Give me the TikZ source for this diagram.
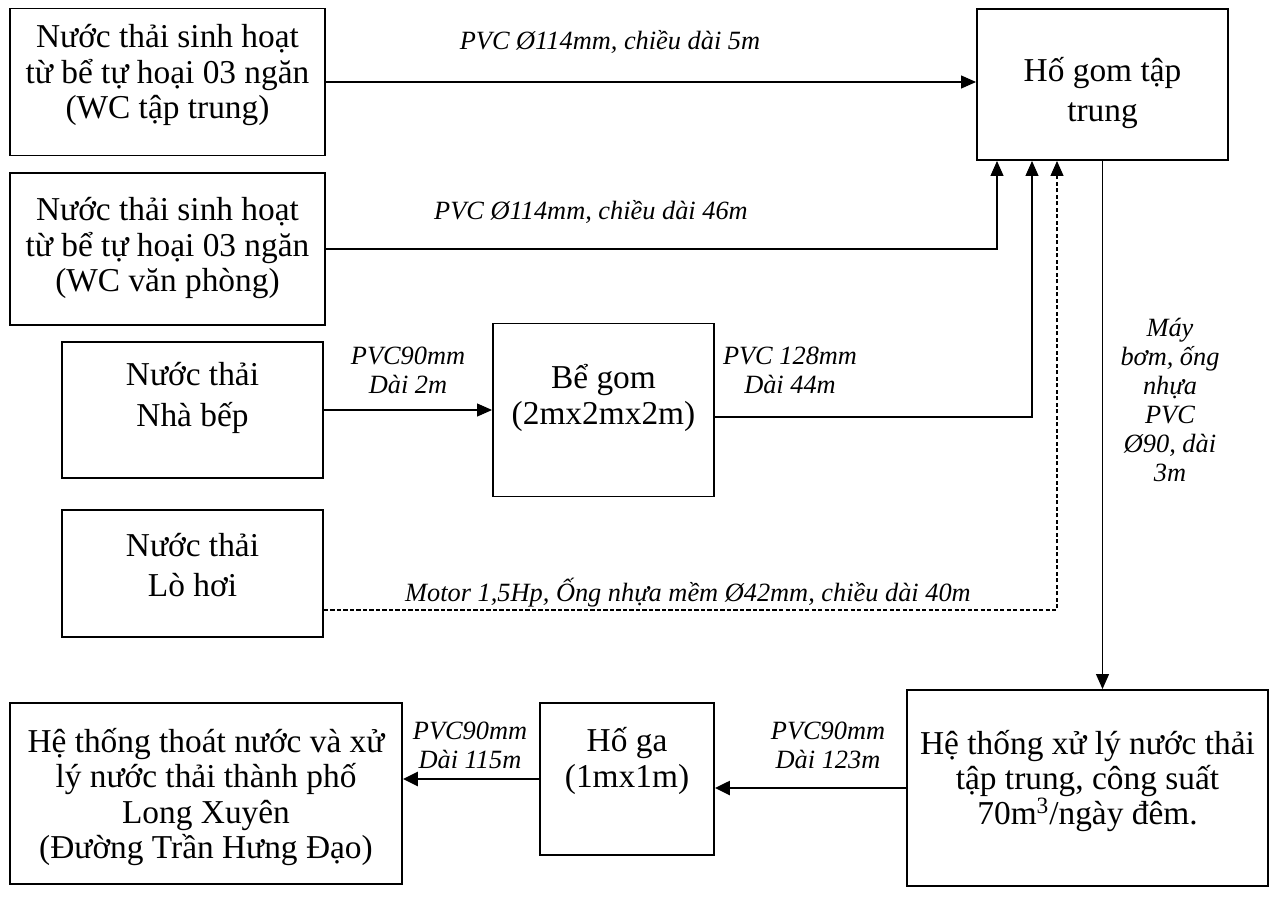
\documentclass[tikz,border=0pt]{standalone}
\usepackage{fontspec}
\setmainfont{Liberation Serif}
\usetikzlibrary{arrows.meta}
\tikzstyle{bx}=[draw=black,line width=1.1pt,inner sep=0pt]
\tikzstyle{tx}=[align=center,inner sep=0pt,font=\fontsize{19}{20}\selectfont]
\tikzstyle{txw}=[align=center,inner sep=0pt,font=\fontsize{19}{23}\selectfont]
\tikzstyle{lbl}=[align=center,inner sep=0pt,font=\fontsize{15}{16.5}\selectfont\itshape]
\tikzstyle{arr}=[line width=0.6pt,-{Triangle[length=3mm,width=2.6mm]}]
\tikzstyle{tarr}=[line width=1.4pt,-{Triangle[length=3mm,width=2.8mm]}]

\begin{document}
\begin{tikzpicture}[x=0.02cm,y=-0.02cm]
\useasboundingbox (0,0) rectangle (1278,896);
% khung
\node[bx,minimum width=6.3cm,minimum height=2.94cm] (a) at (167.5,82) {};
\node[bx,minimum width=6.3cm,minimum height=3.04cm] (b) at (167.5,249) {};
\node[bx,minimum width=5.22cm,minimum height=2.72cm] (c) at (192.5,410) {};
\node[bx,minimum width=4.42cm,minimum height=3.46cm] (d) at (603.5,410) {};
\node[bx,minimum width=5.22cm,minimum height=2.54cm] (e) at (192.5,573.5) {};
\node[bx,minimum width=5.02cm,minimum height=3.02cm] (f) at (1102.5,84.5) {};
\node[bx,minimum width=7.22cm,minimum height=3.92cm] (g) at (1087.5,788) {};
\node[bx,minimum width=3.48cm,minimum height=3.04cm] (h) at (627,779) {};
\node[bx,minimum width=7.84cm,minimum height=3.62cm] (i) at (206,793.5) {};
% chu trong khung
\node[tx] (at) at (167.5,75) {Nước thải sinh hoạt\\từ bể tự hoại 03 ngăn\\(WC tập trung)};
\node[tx] (bt) at (167.5,248) {Nước thải sinh hoạt\\từ bể tự hoại 03 ngăn\\(WC văn phòng)};
\node[txw] (ct) at (192.5,398) {Nước thải\\Nhà bếp};
\node[tx] (dt) at (603.5,398) {Bể gom\\(2mx2mx2m)};
\node[txw] (et) at (192.5,565) {Nước thải\\Lò hơi};
\node[txw] (ft) at (1102.5,93) {Hố gom tập\\trung};
\node[tx] (gt) at (1087.5,781) {Hệ thống xử lý nước thải\\tập trung, công suất\\70m\textsuperscript{3}/ngày đêm.};
\node[tx] (ht) at (627,761) {Hố ga\\(1mx1m)};
\node[tx] (it) at (206,797) {Hệ thống thoát nước và xử\\lý nước thải thành phố\\Long Xuyên\\(Đường Trần Hưng Đạo)};
% diem re
\coordinate (pb) at (997,249);
\coordinate (pd) at (1032,417);
\coordinate (pe) at (1057,610);
% duong ong
\draw[arr] (a.east) -- (a.east -| f.west);
\draw[arr] (b.east) -| (pb |- f.south);
\draw[arr] (c.east) -- (d.west);
\draw[arr] (pd -| d.east) -| (pd |- f.south);
\draw[arr,dash pattern=on 2.5pt off 1.2pt] (pe -| e.east) -| (pe |- f.south);
\draw[arr] (f.south) -- (f.south |- g.north);
\draw[tarr] (g.west) -- (g.west -| h.east);
\draw[tarr] (h.west) -- (h.west -| i.east);
% nhan
\node[lbl] (l1) at (610,42) {PVC Ø114mm, chiều dài 5m};
\node[lbl] (l2) at (591,212) {PVC Ø114mm, chiều dài 46m};
\node[lbl] (l3) at (408,370) {PVC90mm\\Dài 2m};
\node[lbl] (l4) at (790,370) {PVC 128mm\\Dài 44m};
\node[lbl] (l5) at (688,593) {Motor 1,5Hp, Ống nhựa mềm Ø42mm, chiều dài 40m};
\node[lbl] (l6) at (1170,400) {Máy\\bơm, ống\\nhựa\\PVC\\Ø90, dài\\3m};
\node[lbl] (l7) at (828,745) {PVC90mm\\Dài 123m};
\node[lbl] (l8) at (470,745) {PVC90mm\\Dài 115m};
\end{tikzpicture}
\end{document}
